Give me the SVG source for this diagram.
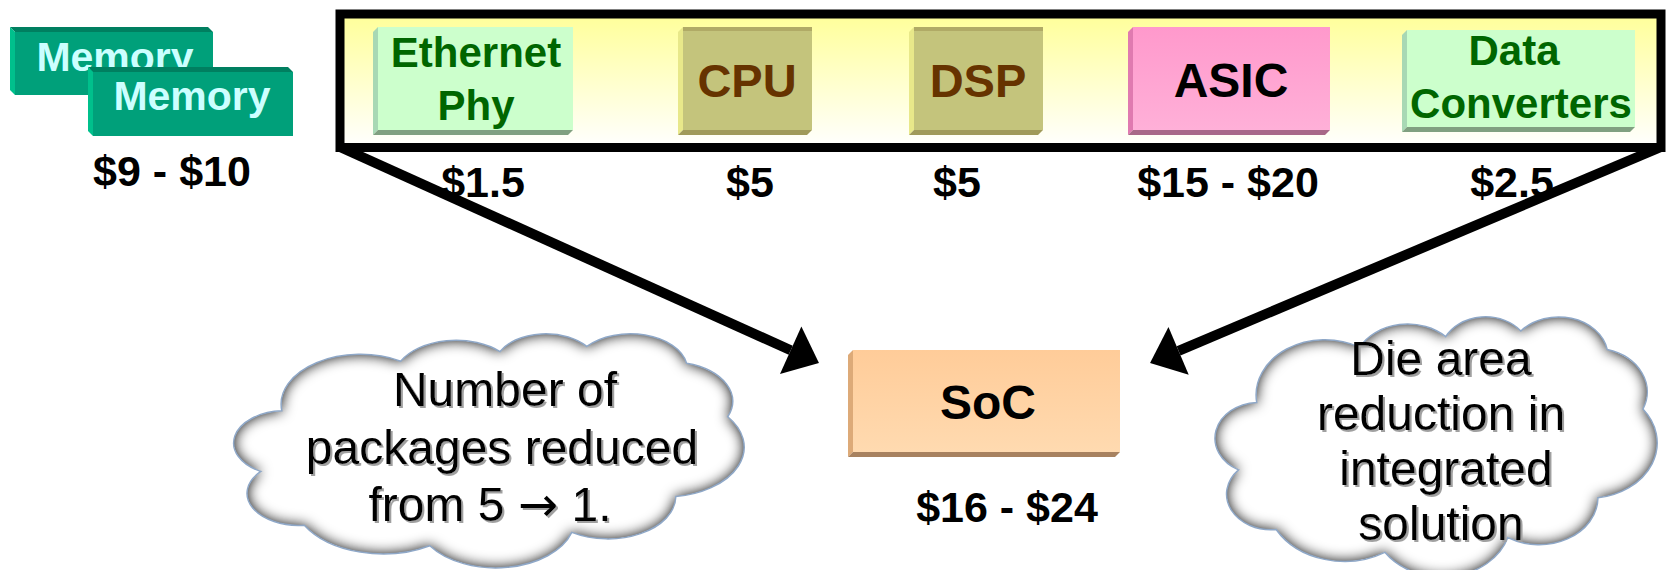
<svg xmlns="http://www.w3.org/2000/svg" xmlns:xlink="http://www.w3.org/1999/xlink" width="1667" height="570" viewBox="0 0 1667 570">
<style>
.t{font-family:"Liberation Sans",Arial,sans-serif;font-weight:bold;text-anchor:middle}
.price{font-size:43px;fill:#000}
.mem{font-size:41px;fill:#CCFFFF}
.green{font-size:42px;fill:#006600}
.brown{font-size:47px;fill:#663300}
.blk{font-size:48px;fill:#000}
.ct{font-family:"Liberation Sans",Arial,sans-serif;font-size:48px;text-anchor:middle;fill:#000;filter:url(#txtShadow)}
.arr{font-family:"DejaVu Sans",sans-serif}
.conn{fill:none;stroke:#000;stroke-width:10;marker-end:url(#head)}
</style>
<defs>
<linearGradient id="frameFill" x1="0" y1="0" x2="0" y2="1"><stop offset="0" stop-color="#FFFF99"/><stop offset="1" stop-color="#FFFFFF"/></linearGradient>
<linearGradient id="asicFill" x1="0" y1="0" x2="0" y2="1"><stop offset="0" stop-color="#FF99CC"/><stop offset="1" stop-color="#FFB0D8"/></linearGradient>
<linearGradient id="socFill" x1="0" y1="0" x2="0" y2="1"><stop offset="0" stop-color="#FFCC99"/><stop offset="1" stop-color="#FFDAB0"/></linearGradient>
<marker id="head" markerUnits="userSpaceOnUse" markerWidth="32" markerHeight="54" viewBox="0 -27 32 54" refX="0" refY="0" orient="auto" overflow="visible"><path d="M0,-26 L31,0 L0,26 Z" fill="#000"/></marker>
<path id="cloud" vector-effect="non-scaling-stroke" d="M3900 14370A6753 9190 0 0 1 14005 5202A5333 7267 0 0 1 22456 3431A4365 5945 0 0 1 29834 2480A4857 6595 0 0 1 38318 5577A5333 7273 0 0 1 41818 15461A6775 9220 0 0 1 37404 30203A5785 7867 0 0 1 28556 36814A6752 9215 0 0 1 16481 39267A7720 10543 0 0 1 5805 35475A4360 5918 0 0 1 2111 25558A4345 5945 0 0 1 3900 14370Z"/>
<filter id="cloudGlow" x="-0.05" y="-0.05" width="1.1" height="1.1" color-interpolation-filters="sRGB">
<feGaussianBlur in="SourceAlpha" stdDeviation="7" result="b"/>
<feComposite in="SourceAlpha" in2="b" operator="arithmetic" k2="1.9" k3="-1.9" result="edge"/>
<feFlood flood-color="#7A7A7A"/>
<feComposite in2="edge" operator="in" result="grey"/>
<feMerge><feMergeNode in="SourceGraphic"/><feMergeNode in="grey"/></feMerge>
</filter>
<filter id="txtShadow" x="-0.1" y="-0.2" width="1.2" height="1.5">
<feDropShadow dx="2" dy="2" stdDeviation="0.6" flood-color="#A0A0A0" flood-opacity="1"/>
</filter>
</defs>

<g id="frame">
<rect x="340" y="14" width="1321" height="133.5" fill="url(#frameFill)" stroke="#000" stroke-width="9"/>
</g>

<g id="memory1">
<polygon points="10,27 208,27 213,32 15,32" fill="#007F60"/>
<polygon points="10,27 15,32 15,95 10,90" fill="#00C08C"/>
<rect x="15" y="32" width="198" height="63" fill="#00A07A"/>
<text class="t mem" x="115" y="71">Memory</text>
</g>
<g id="memory2">
<polygon points="88,67 288,67 293,72 93,72" fill="#007F60"/>
<polygon points="88,67 93,72 93,136 88,131" fill="#00C08C"/>
<rect x="93" y="72" width="200" height="64" fill="#00A07A"/>
<text class="t mem" x="192" y="110">Memory</text>
</g>
<text class="t price" x="172" y="186">$9 - $10</text>

<g id="ethernet">
<rect x="378" y="27" width="195" height="103" fill="#CCFFCC"/>
<polygon points="373,32 378,27 378,130 373,135" fill="#A8D8B4"/>
<polygon points="373,135 378,130 573,130 568,135" fill="#80A080"/>
<text class="t green" x="476" y="67">Ethernet</text>
<text class="t green" x="476" y="120">Phy</text>
</g>
<g id="cpu">
<rect x="683" y="31" width="129" height="99" fill="#C4C47C"/>
<polygon points="683,27 812,27 812,31 683,31" fill="#B0AA66"/>
<polygon points="678,32 683,27 683,130 678,135" fill="#E8E88A"/>
<polygon points="678,135 683,130 812,130 807,135" fill="#A09A5A"/>
<text class="t brown" x="747" y="97">CPU</text>
</g>
<g id="dsp">
<rect x="914" y="31" width="129" height="99" fill="#C4C47C"/>
<polygon points="914,27 1043,27 1043,31 914,31" fill="#B0AA66"/>
<polygon points="909,32 914,27 914,130 909,135" fill="#E8E88A"/>
<polygon points="909,135 914,130 1043,130 1038,135" fill="#A09A5A"/>
<text class="t brown" x="978" y="97">DSP</text>
</g>
<g id="asic">
<rect x="1133" y="27" width="197" height="103" fill="url(#asicFill)"/>
<polygon points="1128,32 1133,27 1133,130 1128,135" fill="#E07AB0"/>
<polygon points="1128,135 1133,130 1330,130 1325,135" fill="#A86888"/>
<text class="t blk" x="1231" y="97">ASIC</text>
</g>
<g id="dataconv">
<rect x="1407" y="30" width="228" height="97" fill="#CCFFCC"/>
<polygon points="1402,35 1407,30 1407,127 1402,132" fill="#A8D8B4"/>
<polygon points="1402,132 1407,127 1635,127 1630,132" fill="#80A080"/>
<text class="t green" x="1514" y="65">Data</text>
<text class="t green" x="1521" y="118">Converters</text>
</g>

<g id="prices">
<text class="t price" x="483" y="197">$1.5</text>
<text class="t price" x="750" y="197">$5</text>
<text class="t price" x="957" y="197">$5</text>
<text class="t price" x="1228" y="197">$15 - $20</text>
<text class="t price" x="1512" y="197">$2.5</text>
</g>

<g id="soc">
<rect x="853" y="350" width="267" height="102" fill="url(#socFill)"/>
<polygon points="848,355 853,350 853,452 848,457" fill="#DDAA78"/>
<polygon points="848,457 853,452 1120,452 1115,457" fill="#A88260"/>
<text class="t blk" x="988" y="419">SoC</text>
<text class="t price" x="1007" y="522">$16 - $24</text>
</g>

<g id="connectors">
<path class="conn" d="M340,147 L790.7,350.3"/>
<path class="conn" d="M1661,147 L1178.6,350.9"/>
</g>

<g id="cloud-left">
<g filter="url(#cloudGlow)"><use xlink:href="#cloud" href="#cloud" transform="translate(236,333) scale(0.011759,0.005417)" fill="#FFFFFF"/></g>
<use xlink:href="#cloud" href="#cloud" transform="translate(236,333) scale(0.011759,0.005417)" fill="none" stroke="#8FA8C8" stroke-width="1.5"/>
<text class="ct" x="505" y="406">Number of</text>
<text class="ct" x="502" y="464">packages reduced</text>
<text class="ct" x="490" y="521">from 5 <tspan class="arr">→</tspan> 1.</text>
</g>

<g id="cloud-right">
<g filter="url(#cloudGlow)"><use xlink:href="#cloud" href="#cloud" transform="translate(1217,316) scale(0.010185,0.006019)" fill="#FFFFFF"/></g>
<use xlink:href="#cloud" href="#cloud" transform="translate(1217,316) scale(0.010185,0.006019)" fill="none" stroke="#8FA8C8" stroke-width="1.5"/>
<text class="ct" x="1441" y="375">Die area</text>
<text class="ct" x="1441" y="430">reduction in</text>
<text class="ct" x="1446" y="485">integrated</text>
<text class="ct" x="1441" y="540">solution</text>
</g>
</svg>
